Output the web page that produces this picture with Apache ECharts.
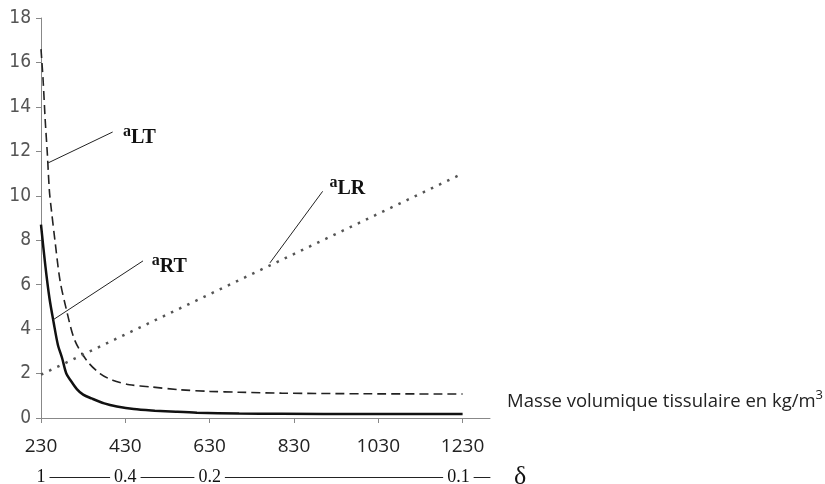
<!DOCTYPE html>
<html>
<head>
<meta charset="utf-8">
<script src="https://cdn.jsdelivr.net/npm/echarts@6/dist/echarts.min.js"></script>
<style>
html, body { margin:0; padding:0; background:#fff; }
#container { width:825px; height:484px; }
</style>
</head>
<body>
<div id="container"></div>
<script type="text/javascript">
// masse volumique (kg/m3) and ratios
var xTicks = [230, 430, 630, 830, 1030, 1230];
var deltaPos = [230, 430, 630, 1220];
var deltaText = ['1', '0.4', '0.2', '0.1'];

var rtX = [230, 240, 250, 260, 270, 280, 290, 300, 315, 330, 350, 380, 410, 450, 500, 550, 600, 700, 800, 1000, 1230];
var rtY = [8.7, 6.9, 5.4, 4.3, 3.3, 2.7, 2.0, 1.7, 1.3, 1.05, 0.88, 0.66, 0.52, 0.4, 0.33, 0.28, 0.24, 0.2, 0.19, 0.18, 0.18];

var ltX = [230, 235, 240, 245, 250, 255, 263, 275, 290, 310, 340, 370, 400, 440, 490, 560, 630, 700, 800, 1000, 1230];
var ltY = [16.6, 15.2, 13.4, 11.9, 10.2, 9.3, 8.0, 6.2, 4.9, 3.5, 2.55, 2.0, 1.7, 1.5, 1.4, 1.27, 1.2, 1.16, 1.12, 1.09, 1.08];

var lrX = [230, 1230];
var lrY = [1.95, 11.0];

function zip(xs, ys) {
	return xs.map(function (x, i) { return [x, ys[i]]; });
}

function pointer(from, to, name, offset) {
	return {
		symbol: 'none',
		silent: true,
		lineStyle: { color: '#222', width: 1, type: 'solid' },
		label: {
			show: true,
			position: 'end',
			distance: 8,
			offset: offset,
			formatter: '{a|a}{s|' + name + '}',
			rich: {
				a: { fontFamily: 'Liberation Serif', fontWeight: 'bold', fontSize: 16, color: '#111', verticalAlign: 'top', lineHeight: 24 },
				s: { fontFamily: 'Liberation Serif', fontWeight: 'bold', fontSize: 20, color: '#111', verticalAlign: 'bottom', lineHeight: 24, padding: [5, 0, 0, 0] }
			}
		},
		data: [[{ coord: from }, { coord: to }]]
	};
}

var myChart = echarts.init(document.getElementById('container'));
var option = {
	animation: false,
	grid: { left: 41, right: 335, top: 18, bottom: 66, outerBoundsMode: 'none', containLabel: false },
	xAxis: [
		{
			type: 'value',
			min: 230,
			max: 1295,
			name: '{t|Masse volumique tissulaire en kg/m}{u|3}',
			nameLocation: 'end',
			nameGap: 17,
			nameTextStyle: {
				verticalAlign: 'bottom',
				padding: [0, 0, 7, 0],
				rich: {
					t: { fontFamily: 'Open Sans', fontSize: 18.5, color: '#222', verticalAlign: 'bottom', lineHeight: 22 },
					u: { fontFamily: 'Open Sans', fontSize: 13, color: '#222', verticalAlign: 'top', lineHeight: 22 }
				}
			},
			splitLine: { show: false },
			axisLine: { show: true, lineStyle: { color: '#888', width: 1 } },
			axisTick: { show: true, length: 5, lineStyle: { color: '#888' }, customValues: xTicks },
			axisLabel: {
				customValues: xTicks,
				margin: 19,
				fontFamily: 'Open Sans',
				fontSize: 19,
				color: '#222',
				formatter: function (v) { return String(v); }
			}
		},
		{
			type: 'value',
			position: 'bottom',
			offset: 59,
			min: 230,
			max: 1295,
			name: 'δ',
			nameLocation: 'end',
			nameGap: 24,
			nameTextStyle: { fontFamily: 'Liberation Serif', fontSize: 26, color: '#111', verticalAlign: 'middle' },
			splitLine: { show: false },
			axisLine: { show: true, lineStyle: { color: '#222', width: 1 } },
			axisTick: { show: false },
			axisLabel: {
				customValues: deltaPos,
				margin: 0,
				verticalAlign: 'middle',
				backgroundColor: '#fff',
				padding: [0, 4],
				fontFamily: 'Liberation Serif',
				fontSize: 18,
				color: '#111',
				formatter: function (v) {
					var i = deltaPos.indexOf(v);
					return i >= 0 ? deltaText[i] : '';
				}
			}
		}
	],
	yAxis: {
		type: 'value',
		min: 0,
		max: 18,
		interval: 2,
		splitLine: { show: false },
		axisLine: { show: true, lineStyle: { color: '#888', width: 1 } },
		axisTick: { show: true, length: 5, lineStyle: { color: '#888' } },
		axisLabel: { margin: 10, fontFamily: 'DejaVu Sans Condensed, Liberation Sans', fontSize: 19, color: '#555' }
	},
	series: [
		{
			name: 'aRT',
			type: 'line',
			showSymbol: false,
			smooth: 0.3,
			data: zip(rtX, rtY),
			lineStyle: { color: '#111', width: 2.5 },
			markLine: pointer([258, 4.41], [472, 7.07], 'RT', [2, 8])
		},
		{
			name: 'aLT',
			type: 'line',
			showSymbol: false,
			smooth: 0.3,
			data: zip(ltX, ltY),
			lineStyle: { color: '#222', width: 1.6, type: [9, 5] },
			markLine: pointer([247, 11.48], [400, 12.87], 'LT', [3, 7])
		},
		{
			name: 'aLR',
			type: 'line',
			showSymbol: false,
			data: zip(lrX, lrY),
			lineStyle: { color: '#555', width: 2.5, type: [2.5, 6.5] },
			markLine: pointer([773, 6.98], [898, 10.2], 'LR', [20, 14])
		}
	]
};
myChart.setOption(option);
</script>
</body>
</html>
